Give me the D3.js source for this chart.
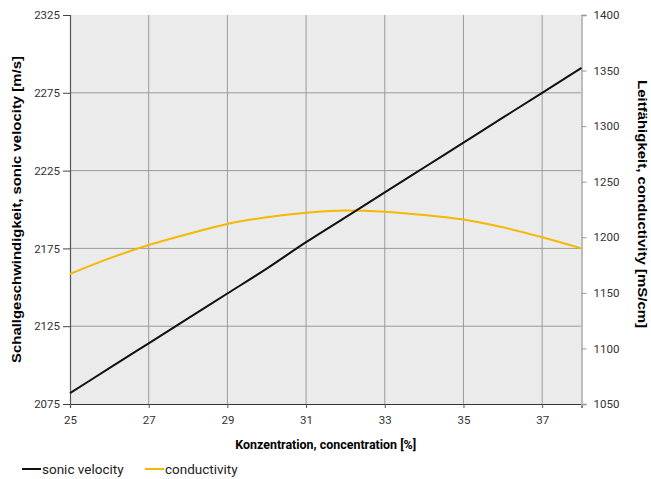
<!DOCTYPE html>
<html>
<head>
<meta charset="utf-8">
<script src="https://cdn.jsdelivr.net/npm/d3@7"></script>
<style>
  body { margin: 0; background: #fff; }
  svg { display: block; }
  .tick text { font-family: Roboto, sans-serif; font-size: 11.5px; fill: #333; }
</style>
</head>
<body>
<svg id="chart" width="651" height="479"></svg>
<script>
const concentration = [25, 26, 27, 28, 29, 30, 31, 32, 33, 34, 35, 36, 37, 38];
const sonicVelocity = [2082, 2098, 2114, 2130, 2146, 2162, 2179, 2195, 2211, 2227, 2243, 2259, 2275, 2291];
const conductivity = [1167, 1181, 1193, 1203, 1212, 1218, 1222, 1224, 1223, 1220, 1216, 1209, 1200, 1190];

const xTicks = [25, 27, 29, 31, 33, 35, 37];
const leftTicks = [2075, 2125, 2175, 2225, 2275, 2325];
const rightTicks = [1050, 1100, 1150, 1200, 1250, 1300, 1350, 1400];

const svg = d3.select("#chart");
const margin = { left: 70, right: 70, top: 15, bottom: 75 };
const width = 651, height = 479;

const x = d3.scaleLinear().domain([25, 38]).range([margin.left, width - margin.right + 0.5]);
const yL = d3.scaleLinear().domain([2075, 2325]).range([height - margin.bottom, margin.top]);
const yR = d3.scaleLinear().domain([1050, 1400]).range([height - margin.bottom, margin.top]);

const x0 = x.range()[0], x1 = x.range()[1];
const yTop = yL.range()[1], yBot = yL.range()[0];

// plot background
svg.append("rect")
    .attr("x", x0).attr("y", yTop)
    .attr("width", x1 - x0).attr("height", yBot - yTop)
    .attr("fill", "#ebebeb");

// grid
svg.append("g").selectAll("line")
    .data(leftTicks.slice(1, -1))
    .enter().append("line")
    .attr("x1", x0).attr("x2", x1)
    .attr("y1", d => yL(d)).attr("y2", d => yL(d))
    .attr("stroke", "#9a9a9a").attr("stroke-width", 1);

svg.append("g").selectAll("line")
    .data(xTicks.slice(1))
    .enter().append("line")
    .attr("x1", d => x(d)).attr("x2", d => x(d))
    .attr("y1", yTop).attr("y2", yBot)
    .attr("stroke", "#9a9a9a").attr("stroke-width", 1);

// axes
const gx = svg.append("g")
    .attr("transform", `translate(0,${yBot})`)
    .call(d3.axisBottom(x).tickValues(xTicks).tickSize(4).tickPadding(8).tickFormat(d3.format("d")));
gx.select(".domain").attr("stroke", "#333").attr("stroke-width", 1.2);
gx.selectAll(".tick line").attr("stroke", "#555");

const gl = svg.append("g")
    .attr("transform", `translate(${x0},0)`)
    .call(d3.axisLeft(yL).tickValues(leftTicks).tickSize(7).tickPadding(3).tickFormat(d3.format("d")));
gl.select(".domain").attr("stroke", "#555").attr("stroke-width", 1.2);
gl.selectAll(".tick line").attr("stroke", "#444");

const gr = svg.append("g")
    .attr("transform", `translate(${x1},0)`)
    .call(d3.axisRight(yR).tickValues(rightTicks).tickSize(5).tickPadding(7).tickFormat(d3.format("d")));
gr.select(".domain").attr("stroke", "#bdbdbd").attr("stroke-width", 2);
gr.selectAll(".tick line").attr("stroke", "#999");

// lines
const sonicLine = d3.line().x((d, i) => x(concentration[i])).y(d => yL(d)).curve(d3.curveMonotoneX);
const condLine = d3.line().x((d, i) => x(concentration[i])).y(d => yR(d)).curve(d3.curveMonotoneX);

svg.append("path")
    .datum(conductivity)
    .attr("d", condLine)
    .attr("fill", "none")
    .attr("stroke", "#f5b800")
    .attr("stroke-width", 2);

svg.append("path")
    .datum(sonicVelocity)
    .attr("d", sonicLine)
    .attr("fill", "none")
    .attr("stroke", "#111")
    .attr("stroke-width", 2);

// axis titles
svg.append("text")
    .attr("x", (x0 + x1) / 2).attr("y", 449)
    .attr("text-anchor", "middle")
    .style("font-family", "Roboto, sans-serif").style("font-weight", "bold").style("font-size", "13px")
    .attr("textLength", 181).attr("lengthAdjust", "spacingAndGlyphs")
    .text("Konzentration, concentration [%]");

svg.append("text")
    .attr("transform", `translate(21,${(yTop + yBot) / 2}) rotate(-90)`)
    .attr("text-anchor", "middle")
    .style("font-family", "'Liberation Sans', Arial, sans-serif").style("font-weight", "bold").style("font-size", "12.5px")
    .attr("textLength", 307).attr("lengthAdjust", "spacingAndGlyphs")
    .text("Schallgeschwindigkeit, sonic velocity [m/s]");

svg.append("text")
    .attr("transform", `translate(638,204) rotate(90)`)
    .attr("text-anchor", "middle")
    .style("font-family", "'Liberation Sans', Arial, sans-serif").style("font-weight", "bold").style("font-size", "12.5px")
    .attr("textLength", 248).attr("lengthAdjust", "spacingAndGlyphs")
    .text("Leitfähigkeit, conductivity [mS/cm]");

// legend
const legendItems = [
    { label: "sonic velocity", color: "#111", x: 22 },
    { label: "conductivity", color: "#f5b800", x: 145 }
];
const lg = svg.append("g").selectAll("g")
    .data(legendItems)
    .enter().append("g")
    .attr("transform", d => `translate(${d.x},469)`);
lg.append("line")
    .attr("x1", 0).attr("x2", 19)
    .attr("stroke", d => d.color).attr("stroke-width", 2);
lg.append("text")
    .attr("x", 20).attr("y", 4.5)
    .style("font-family", "Roboto, sans-serif").style("font-size", "13.5px").style("fill", "#222")
    .text(d => d.label);
</script>
</body>
</html>
